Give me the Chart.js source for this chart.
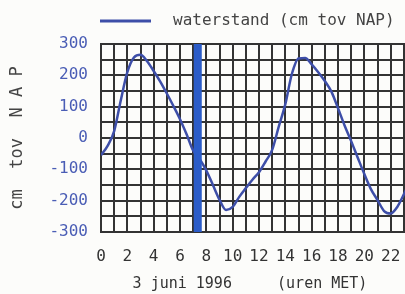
<!DOCTYPE html>
<html>
<head>
<meta charset="utf-8">
<script src="https://cdn.jsdelivr.net/npm/chart.js@4/dist/chart.umd.min.js"></script>
<style>
  html, body { margin: 0; padding: 0; background: #fcfcfa; overflow: hidden; }
  #wrap { width: 432px; height: 294px; }
</style>
</head>
<body>
<div id="wrap"><canvas id="graph_water" width="432" height="294"></canvas></div>
<script>
// uren MET, per half uur
var hours = [0, 0.5, 1, 1.5, 2, 2.5, 3, 3.5, 4, 4.5, 5, 5.5, 6, 6.5, 7, 7.5, 8, 8.5, 9, 9.5,
             10, 10.5, 11, 11.5, 12, 12.5, 13, 13.5, 14, 14.5, 15, 15.5, 16, 16.5, 17, 17.5,
             18, 18.5, 19, 19.5, 20, 20.5, 21, 21.5, 22, 22.5, 23, 23.5];
// waterstand in cm tov NAP
var waterstand = [-55, -25, 22, 120, 210, 257, 266, 245, 214, 180, 142, 102, 60, 12, -40, -68,
                  -104, -150, -197, -230, -220, -188, -160, -133, -109, -75, -38, 36, 108, 205,
                  254, 255, 235, 210, 182, 148, 95, 40, -10, -63, -115, -163, -198, -233, -241,
                  -220, -180, -135];
// tijdstip van de blauwe markering
var nuTijd = [7.35, 7.35];
var nuRange = [-300, 300];

var lineColor = '#3d4ea8';

var legendPlugin = {
    id: 'ownLegend',
    afterDraw: function(chart) {
        var c = chart.ctx;
        var ds = chart.data.datasets[1];
        c.save();
        c.strokeStyle = ds.borderColor;
        c.lineWidth = 3;
        c.beginPath();
        c.moveTo(100, 21);
        c.lineTo(151, 21);
        c.stroke();
        c.fillStyle = '#444';
        c.font = '16px "DejaVu Sans Mono"';
        c.textBaseline = 'middle';
        c.fillText(ds.label, 173, 21);
        c.restore();
    }
};

var data = {
    datasets: [{
        label: 'nu',
        data: nuTijd.map(function(h, i) { return {x: h, y: nuRange[i]}; }),
        borderColor: '#2b5cc8',
        borderWidth: 8,
        borderCapStyle: 'butt',
        pointRadius: 0
    }, {
        label: 'waterstand (cm tov NAP)',
        data: hours.map(function(h, i) { return {x: h, y: waterstand[i]}; }),
        borderColor: lineColor,
        borderWidth: 2.5,
        pointRadius: 0,
        cubicInterpolationMode: 'monotone'
    }]
};

var options = {
    responsive: false,
    animation: false,
    layout: { padding: { top: 44, right: 4, left: 0, bottom: 0 } },
    plugins: {
        legend: { display: false },
        tooltip: { enabled: false }
    },
    scales: {
        x: {
            type: 'linear',
            min: 0,
            max: 24,
            afterFit: function(s) { s.height = 62; },
            grid: { color: '#333', lineWidth: 2, drawTicks: false },
            border: { color: '#333', width: 2 },
            ticks: {
                stepSize: 1,
                autoSkip: false,
                maxRotation: 0,
                padding: 15,
                color: '#333',
                font: { family: 'DejaVu Sans Mono', size: 16 },
                callback: function(v) { return (v % 2 === 0 && v < 24) ? String(v) : ''; }
            },
            title: {
                display: true,
                text: '3 juni 1996     (uren MET)  ',
                color: '#333',
                font: { family: 'DejaVu Sans Mono', size: 15 },
                padding: { top: 0, bottom: 1 }
            }
        },
        y: {
            min: -300,
            max: 300,
            afterFit: function(s) { s.width = 101; },
            grid: { color: '#333', lineWidth: 2, drawTicks: false },
            border: { color: '#333', width: 2 },
            ticks: {
                stepSize: 50,
                autoSkip: false,
                padding: 13,
                color: '#4a5db5',
                font: { family: 'DejaVu Sans Mono', size: 16 },
                callback: function(v) { return v % 100 === 0 ? String(v) : ''; }
            },
            title: {
                display: true,
                text: 'cm  tov  N A P',
                color: '#444',
                font: { family: 'DejaVu Sans Mono', size: 17 },
                padding: { top: 7, bottom: 0 }
            }
        }
    }
};

var graph_water = new Chart(document.getElementById('graph_water'), {
    type: 'line',
    data: data,
    options: options,
    plugins: [legendPlugin]
});
</script>
</body>
</html>
